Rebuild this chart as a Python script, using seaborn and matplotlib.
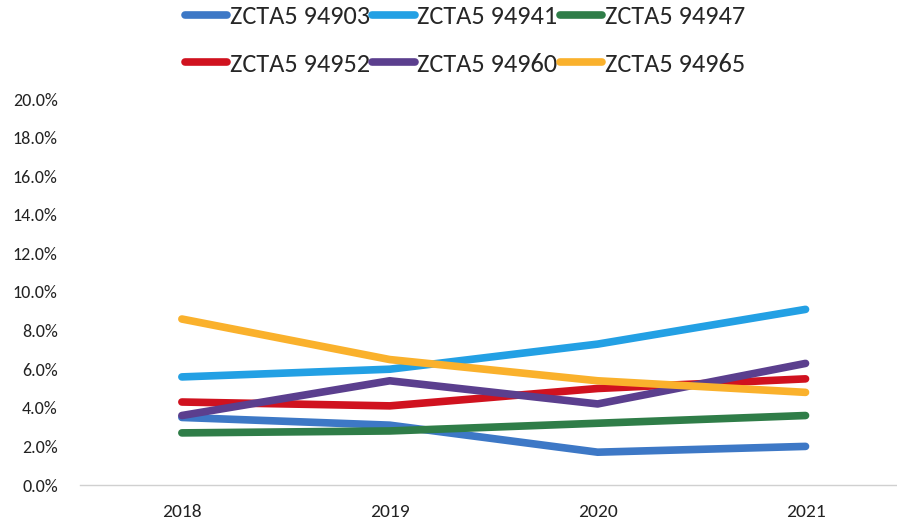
import matplotlib
matplotlib.use("Agg")
import matplotlib.pyplot as plt
from matplotlib import font_manager
from matplotlib.ticker import PercentFormatter
import seaborn as sns
import pandas as pd

# Share of population by ZIP code tabulation area, 2018-2021
years = [2018, 2019, 2020, 2021]
zcta_94903 = [0.035, 0.031, 0.017, 0.020]
zcta_94941 = [0.056, 0.060, 0.073, 0.091]
zcta_94947 = [0.027, 0.028, 0.032, 0.036]
zcta_94952 = [0.043, 0.041, 0.050, 0.055]
zcta_94960 = [0.036, 0.054, 0.042, 0.063]
zcta_94965 = [0.086, 0.065, 0.054, 0.048]

series_names = ["ZCTA5 94903", "ZCTA5 94941", "ZCTA5 94947",
                "ZCTA5 94952", "ZCTA5 94960", "ZCTA5 94965"]
series_values = [zcta_94903, zcta_94941, zcta_94947,
                 zcta_94952, zcta_94960, zcta_94965]
colors = ["#3D78C6", "#23A0E4", "#2F7D48", "#D0121F", "#5B3F8E", "#FAB12C"]

rows = []
for name, vals in zip(series_names, series_values):
    for yr, v in zip(years, vals):
        rows.append({"Year": yr, "Share": v, "Area": name})
df = pd.DataFrame(rows)

sns.set_theme(style="white")
installed = {f.name for f in font_manager.fontManager.ttflist}
family = next((f for f in ["Carlito", "Liberation Sans Narrow", "Lato"] if f in installed), "DejaVu Sans")
plt.rcParams["font.family"] = [family, "DejaVu Sans"]

fig = plt.figure(figsize=(8.97, 5.2), dpi=100)
ax = fig.add_axes([80 / 897, 35 / 520, 817 / 897, 386 / 520])

sns.lineplot(data=df, x="Year", y="Share", hue="Area", hue_order=series_names,
             palette=colors, linewidth=5.5, ax=ax, legend=True)
for line in ax.get_lines():
    line.set_solid_capstyle("round")
    line.set_solid_joinstyle("round")

ax.set_xlim(2017.51, 2021.44)
ax.set_ylim(0, 0.20)
ax.set_xticks(years)
ax.set_xticklabels([str(y) for y in years])
ax.set_yticks([i / 100 for i in range(0, 21, 2)])
ax.yaxis.set_major_formatter(PercentFormatter(1.0, decimals=1))
ax.tick_params(axis="y", length=0, pad=16, labelsize=13, colors="#222222")
ax.tick_params(axis="x", length=0, pad=14, labelsize=14, colors="#222222")
ax.set_xlabel("")
ax.set_ylabel("")
for side in ["top", "right", "left"]:
    ax.spines[side].set_visible(False)
ax.spines["bottom"].set_color("#D0D0D0")
ax.spines["bottom"].set_linewidth(1.0)

handles, labels = ax.get_legend_handles_labels()
ax.get_legend().remove()
order = [0, 3, 1, 4, 2, 5]
leg = fig.legend([handles[i] for i in order], [labels[i] for i in order],
                 ncol=3, loc="center", bbox_to_anchor=(465 / 897, 1 - 40.5 / 520),
                 frameon=False, fontsize=19, handlelength=1.6, handletextpad=0.1,
                 columnspacing=0.1, labelspacing=0.92)
for h in leg.get_lines():
    h.set_linewidth(5.5)
    h.set_solid_capstyle("round")

fig.savefig("out.png", dpi=100, facecolor="white")
